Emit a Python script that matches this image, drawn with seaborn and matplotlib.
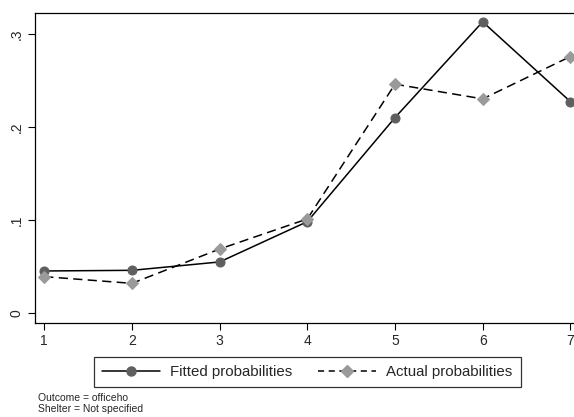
import matplotlib
matplotlib.use("Agg")
import matplotlib.pyplot as plt
import seaborn as sns
import pandas as pd
from matplotlib.lines import Line2D

categories = [1, 2, 3, 4, 5, 6, 7]
fitted = [0.0455, 0.0462, 0.0552, 0.0985, 0.2103, 0.3132, 0.2275]
actual = [0.0394, 0.0322, 0.0691, 0.1014, 0.2462, 0.2304, 0.2759]
yticks = [0, 0.1, 0.2, 0.3]
ytick_labels = ["0", ".1", ".2", ".3"]
note_lines = ["Outcome = officeho", "Shelter = Not specified"]

sns.set_style("white")
plt.rcParams['font.family'] = ['Liberation Sans', 'DejaVu Sans']

fig = plt.figure(figsize=(5.74, 4.17), dpi=100)
W, H = 574, 417
ax = fig.add_axes([35 / W, 1 - 323 / H, (580 - 35) / W, (323 - 12.7) / H])

df_f = pd.DataFrame({"x": categories, "y": fitted})
df_a = pd.DataFrame({"x": categories, "y": actual})

sns.lineplot(data=df_f, x="x", y="y", ax=ax, color="black", lw=1.1,
             marker="o", markersize=6.5, markerfacecolor="#5f5f5f",
             markeredgecolor="#5f5f5f", clip_on=False, zorder=3)
sns.lineplot(data=df_a, x="x", y="y", ax=ax, color="black", lw=1.1,
             linestyle=(0, (6, 3.5)), marker="D", markersize=6,
             markerfacecolor="#9a9a9a", markeredgecolor="#9a9a9a",
             clip_on=False, zorder=3)

ax.set_xlim(0.894, 7.11)
ax.set_ylim(-0.0104, 0.323)
ax.set_xticks(categories)
ax.set_xticklabels([str(c) for c in categories], fontsize=10)
ax.set_yticks(yticks)
ax.set_yticklabels(ytick_labels, fontsize=10, rotation=90, va="center")
ax.tick_params(axis="both", which="both", length=5, width=0.8, color="black",
               direction="out", bottom=True, left=True, pad=3)
ax.set_xlabel("")
ax.set_ylabel("")
for s in ["left", "bottom", "top"]:
    ax.spines[s].set_visible(True)
    ax.spines[s].set_color("black")
    ax.spines[s].set_linewidth(0.9)
ax.spines["right"].set_visible(False)

handles = [
    Line2D([0], [0], color="black", lw=1.1, marker="o", markersize=6.5,
           markerfacecolor="#5f5f5f", markeredgecolor="#5f5f5f"),
    Line2D([0], [0], color="black", lw=1.1, linestyle=(0, (4, 3)),
           marker="D", markersize=6, markerfacecolor="#9a9a9a",
           markeredgecolor="#9a9a9a"),
]
leg = fig.legend(handles, ["Fitted probabilities", "Actual probabilities"],
                 loc="center", bbox_to_anchor=(307 / W, 1 - 372 / H),
                 ncol=2, fontsize=10.8, frameon=True, fancybox=False,
                 handlelength=3.9, columnspacing=1.7, borderpad=0.55,
                 handletextpad=0.65, edgecolor="black")
leg.get_frame().set_linewidth(0.9)

fig.text(38 / W, 1 - 398 / H, note_lines[0], fontsize=7.5, va="center")
fig.text(38 / W, 1 - 409 / H, note_lines[1], fontsize=7.5, va="center")

fig.savefig("out.png", dpi=100, facecolor="white")
